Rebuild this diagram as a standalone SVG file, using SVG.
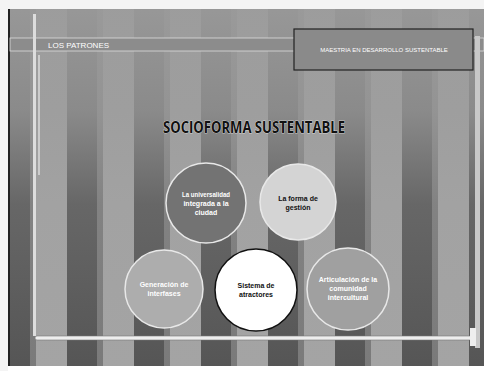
<svg xmlns="http://www.w3.org/2000/svg" width="484" height="371" viewBox="0 0 484 371">
<defs>
<pattern id="stripes" x="0" y="0" width="67" height="371" patternUnits="userSpaceOnUse">
<rect x="0" y="0" width="67" height="371" fill="#a4a4a4"/>
<rect x="0" y="0" width="30" height="371" fill="#555"/>
<rect x="30" y="0" width="6" height="371" fill="#7a7a7a"/>
</pattern>
<linearGradient id="fade" x1="0" y1="0" x2="0" y2="1">
<stop offset="0" stop-color="#9c9c9c" stop-opacity="0.95"/>
<stop offset="0.3" stop-color="#9c9c9c" stop-opacity="0.75"/>
<stop offset="0.55" stop-color="#9c9c9c" stop-opacity="0.25"/>
<stop offset="1" stop-color="#9c9c9c" stop-opacity="0"/>
</linearGradient>
</defs>
<style>
.lbl{font-family:"Liberation Sans",Arial,sans-serif;font-size:7px;font-weight:bold;text-anchor:middle}
.hdr{font-family:"Liberation Sans",Arial,sans-serif;font-size:8px;fill:#fff}
.hdr2{font-family:"Liberation Sans",Arial,sans-serif;font-size:6px;fill:#fff;text-anchor:middle}
.title{font-family:"Open Sans","Liberation Sans",sans-serif;font-size:16px;font-weight:bold;fill:#111;stroke:#fff;stroke-width:0.6;paint-order:stroke}
.ring{stroke:#e8e8e8;stroke-width:1.5}
</style>
<rect x="0" y="0" width="484" height="371" fill="url(#stripes)"/>
<rect x="0" y="0" width="484" height="371" fill="url(#fade)"/>
<rect x="0" y="0" width="484" height="9" fill="#f4f4f4"/>
<rect x="0" y="366" width="484" height="5" fill="#fff"/>
<rect x="0" y="0" width="8" height="371" fill="#f4f4f4"/>
<rect x="8" y="9" width="2" height="357" fill="#222"/>
<g id="header">
<rect x="10" y="38" width="474" height="13" fill="#8c8c8c" stroke="#ddd" stroke-width="0.8"/>
<rect x="33" y="14" width="3" height="322" fill="#ddd"/>
<rect x="38" y="55" width="2" height="120" fill="#ccc"/>
<rect x="294" y="29" width="179" height="41" fill="#8a8a8a" stroke="#222" stroke-width="1.2"/>
<rect x="475" y="36" width="5" height="312" fill="#c8c8c8"/>
<text class="hdr" x="48" y="48">LOS PATRONES</text>
<text class="hdr2" x="384" y="52">MAESTRIA EN DESARROLLO SUSTENTABLE</text>
</g>
<g id="title">
<text class="title" x="254" y="133" text-anchor="middle" textLength="182" lengthAdjust="spacingAndGlyphs">SOCIOFORMA SUSTENTABLE</text>
</g>
<g id="connectors"></g>
<g id="n1">
<circle class="ring" cx="206" cy="203" r="40" fill="#737373"/>
<text class="lbl" fill="#fff" x="206" y="197" textLength="48" lengthAdjust="spacingAndGlyphs">La universalidad</text>
<text class="lbl" fill="#fff" x="206" y="206">integrada a la</text>
<text class="lbl" fill="#fff" x="206" y="215">ciudad</text>
</g>
<g id="n2">
<circle class="ring" cx="298" cy="202" r="38" fill="#d4d4d4" stroke="#444"/>
<text class="lbl" fill="#111" x="298" y="201">La forma de</text>
<text class="lbl" fill="#111" x="298" y="210">gestión</text>
</g>
<g id="n3">
<circle class="ring" cx="164" cy="289" r="39" fill="#adadad"/>
<text class="lbl" fill="#fff" x="164" y="287">Generación de</text>
<text class="lbl" fill="#fff" x="164" y="296">interfases</text>
</g>
<g id="n5">
<circle class="ring" cx="348" cy="289" r="41" fill="#a0a0a0"/>
<text class="lbl" fill="#fff" x="348" y="282">Articulación de la</text>
<text class="lbl" fill="#fff" x="348" y="291">comunidad</text>
<text class="lbl" fill="#fff" x="348" y="300">intercultural</text>
</g>
<g id="n4">
<circle cx="256" cy="290" r="41" fill="#fff" stroke="#111" stroke-width="1.5"/>
<text class="lbl" fill="#111" x="256" y="288">Sistema de</text>
<text class="lbl" fill="#111" x="256" y="297">atractores</text>
</g>
<g id="footer">
<rect x="35" y="336" width="437" height="4" rx="2" fill="#eee" stroke="#777" stroke-width="0.6"/>
<rect x="470" y="328" width="6" height="18" fill="#eee"/>
</g>
</svg>
